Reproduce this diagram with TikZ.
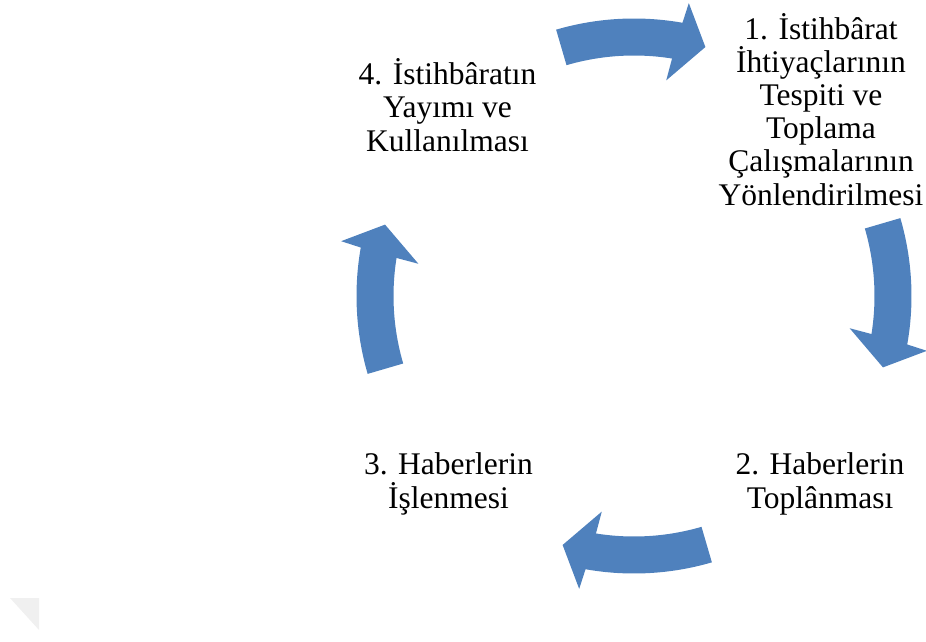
\documentclass[tikz,border=0pt]{standalone}
\usepackage{fontspec}
\setmainfont{Liberation Serif}
\definecolor{cyclblue}{HTML}{4F81BD}
\begin{document}
\begin{tikzpicture}[x=1pt,y=1pt,
  lbl/.style={align=center,anchor=base,inner sep=0pt,font=\fontsize{31.5}{33.2}\selectfont},
  arrowfill/.style={fill=cyclblue,draw=none}]
\useasboundingbox (0,0) rectangle (926,-642);
% faint corner shape
\fill[gray!12] (10,-598) -- (39,-598) -- (39,-630) -- cycle;
% cycle arrows
\coordinate (ctr) at (634,-296);
\begin{scope}[shift={(ctr)}]
\foreach \t in {90,0,-90,180}{
  \fill[arrowfill] (\t+16.3:277.5) arc[start angle=\t+16.3, end angle=\t-10.06, radius=277.5]
    -- (\t-10.6:298) -- (\t-16:259) -- (\t-8.5:218) -- (\t-9.1:240.5)
    arc[start angle=\t-9.1, end angle=\t+16.3, radius=240.5] -- cycle;
}
\end{scope}
% labels (anchor base = last line's baseline)
\node[lbl] (s1) at (821,-205) {1. İstihbârat\\İhtiyaçlarının\\Tespiti ve\\Toplama\\Çalışmalarının\\Yönlendirilmesi};
\node[lbl] (s2) at (820,-508) {2. Haberlerin\\Toplânması};
\node[lbl] (s3) at (448.5,-508) {3. Haberlerin\\İşlenmesi};
\node[lbl] (s4) at (447.5,-151) {4. İstihbâratın\\Yayımı ve\\Kullanılması};
\end{tikzpicture}
\end{document}
